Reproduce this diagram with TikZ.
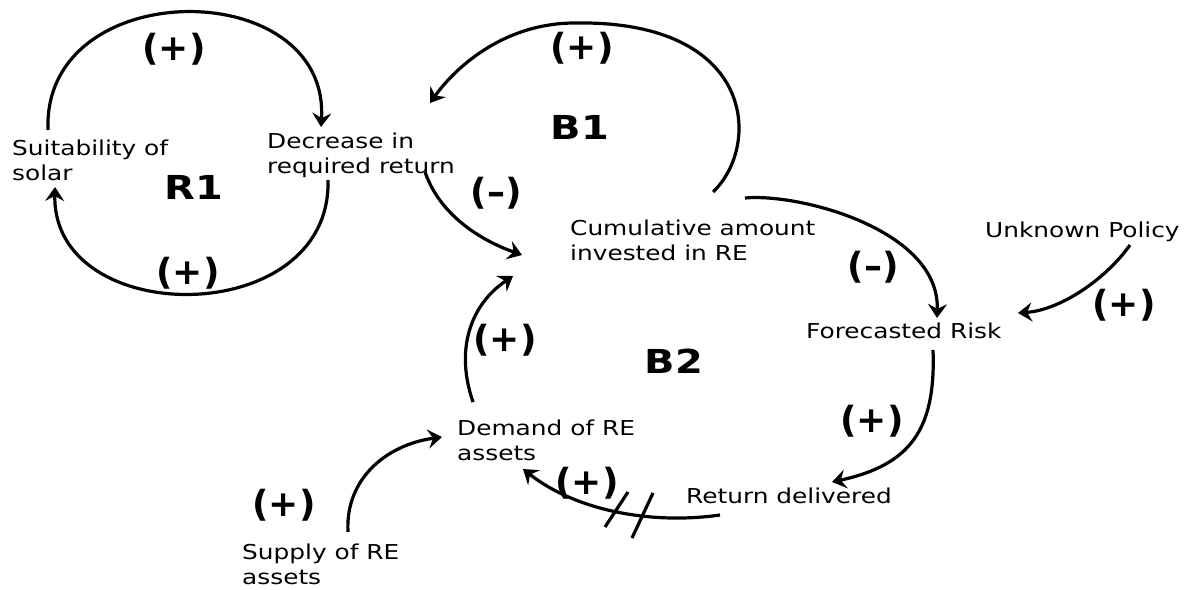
\documentclass[tikz,border=0pt]{standalone}
\usepackage{fontspec}
\setmainfont[FakeStretch=1.21]{DejaVu Sans}
\newfontfamily\polfont{DejaVu Sans}
\usetikzlibrary{arrows.meta,calc}

% two-line label whose baseline is that of its first line
\newcommand\twoline[2]{\begin{tabular}[t]{@{}l@{}}#1\\#2\end{tabular}}

\tikzset{
  lbl/.style={anchor=base west, inner sep=0pt, font=\fontsize{20.5}{25}\selectfont},
  loopname/.style={inner sep=0pt, font=\fontsize{33}{36}\selectfont\bfseries},
  pol/.style={inner sep=0pt, font=\polfont\fontsize{36}{40}\selectfont\bfseries},
  link/.style={line width=3.2pt, -{Stealth[length=14pt,width=19pt,inset=5pt]}},
  delay/.style={line width=3.2pt},
}

\begin{document}
\begin{tikzpicture}[x=1pt,y=-1pt]
\useasboundingbox (0,0) rectangle (1190,589);

% variables
\node[lbl] (suit) at (12,155)  {\twoline{Suitability of}{solar}};
\node[lbl] (decr) at (267,148) {\twoline{Decrease in}{required return}};
\node[lbl] (cum)  at (570,235) {\twoline{Cumulative amount}{invested in RE}};
\node[lbl] (unk)  at (985,237) {Unknown Policy};
\node[lbl] (fore) at (806,338) {Forecasted Risk};
\node[lbl] (dem)  at (457,435) {\twoline{Demand of RE}{assets}};
\node[lbl] (ret)  at (686,503) {Return delivered};
\node[lbl] (sup)  at (242,559) {\twoline{Supply of RE}{assets}};

% loop names
\node[loopname] (r1) at (194,187) {R1};
\node[loopname] (b1) at (580,127) {B1};
\node[loopname] (b2) at (674,361) {B2};

% polarities
\node[pol] (p1)  at (174,49)   {(+)};
\node[pol] (p2)  at (188,273)  {(+)};
\node[pol] (p3)  at (582,48)   {(+)};
\node[pol] (p4)  at (496,193)  {(–)};
\node[pol] (p5)  at (873,267)  {(–)};
\node[pol] (p6)  at (1124,305) {(+)};
\node[pol] (p7)  at (872,421)  {(+)};
\node[pol] (p8)  at (505,340)  {(+)};
\node[pol] (p9)  at (587,483)  {(+)};
\node[pol] (p10) at (284,505)  {(+)};

% R1 loop
\draw[link] ($(suit.base west)+(36,-25)$) .. controls +(-6,-156) and +(9,-153) .. ($(decr.base west)+(54,-21)$);
\draw[link] ($(decr.base west)+(61,32)$) .. controls +(4,150) and +(-3,143) .. ($(suit.base west)+(43,32)$);

% B1 loop
\draw[link] ($(cum.base west)+(143,-43)$) .. controls +(49,-47) and +(180,-3) .. (575,23)
  .. controls +(-75,0) and +(22,-31) .. ($(decr.base west)+(163,-45)$);
\draw[link] ($(decr.base west)+(158,24)$) .. controls +(15,43) and +(-42,-15) .. ($(cum.base west)+(-48,20)$);

% B2 loop
\draw[link] ($(cum.base west)+(175,-37)$) .. controls +(55,-5) and +(3,-88) .. ($(fore.base west)+(131,-20)$);
\draw[link] ($(fore.base west)+(127,12)$) .. controls +(3,80) and +(78,-17) .. ($(ret.base west)+(146,-21)$);
\draw[link] ($(ret.base west)+(34,12)$) .. controls +(-70,10) and +(52,41) .. ($(dem.base west)+(66,34)$);
\draw[link] ($(dem.base west)+(16,-33)$) .. controls +(-18,-52) and +(-43,29) .. ($(cum.base west)+(-57,41)$);

% exogenous links
\draw[link] ($(unk.base west)+(145,8)$) .. controls +(-25,35) and +(42,-3) .. ($(fore.base west)+(212,-25)$);
\draw[link] ($(sup.base west)+(106,-27)$) .. controls +(-3,-52) and +(-57,8) .. ($(dem.base west)+(-15,2)$);

% delay marks
\draw[delay] (605,527) -- (628,492);
\draw[delay] (632,538) -- (653,493);
\end{tikzpicture}
\end{document}
